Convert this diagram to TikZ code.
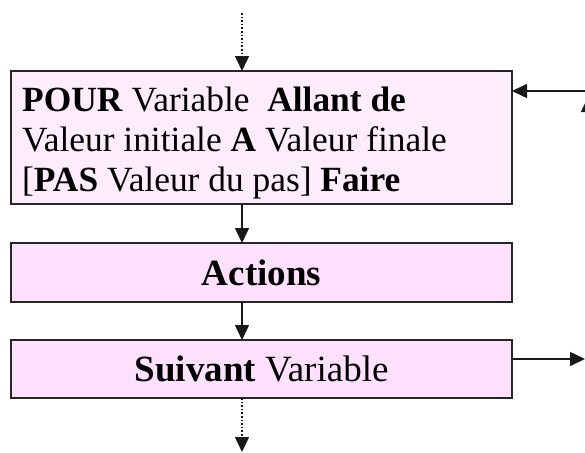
\documentclass[tikz,border=0pt]{standalone}
\usepackage{fontspec}
\setmainfont{Liberation Serif}
\usetikzlibrary{arrows.meta}
\definecolor{pinkA}{RGB}{252,236,252}
\definecolor{pinkB}{RGB}{252,224,252}
\begin{document}
\begin{tikzpicture}[x=1pt,y=-1pt,
  box/.style={draw=black!85, line width=2pt, rectangle, inner sep=0pt, outer sep=0pt, anchor=north west},
  conn/.style={line width=1.6pt, black!90, -{Triangle[length=15pt,width=14pt]}},
  dotconn/.style={conn, dotted},
  txtA/.style={font=\fontsize{35.4}{40}\selectfont, inner sep=0pt, anchor=base west},
  txtB/.style={font=\fontsize{37}{42}\selectfont}
]
\useasboundingbox (0,0) rectangle (585,452);
\clip (0,0) rectangle (585,452);
% boxes
\node[box, fill=pinkA, minimum width=501pt, minimum height=133pt] (pour) at (11,71) {};
\node[txtA] (l1) at (22,111) {\textbf{POUR} Variable\ \ \textbf{Allant de}};
\node[txtA] (l2) at (22,151) {Valeur initiale \textbf{A} Valeur finale};
\node[txtA] (l3) at (22,191) {[\textbf{PAS} Valeur du pas] \textbf{Faire}};
\node[box, fill=pinkB, minimum width=501pt, minimum height=59pt, txtB] (act) at (11,243) {\textbf{Actions}};
\node[box, fill=pinkB, minimum width=501pt, minimum height=58pt, txtB] (suiv) at (11,340) {\textbf{Suivant} Variable};
% coordinates
\coordinate (top) at (242,13);
\coordinate (bot) at (242,452);
\coordinate (rin) at (590,91);
\coordinate (rout) at (585,359);
\coordinate (upfoot) at (588,200);
\coordinate (uptip) at (588,97);
% connectors
\draw[dotconn] (top) -- (top |- pour.north);
\draw[conn] (pour.south -| top) -- (act.north -| top);
\draw[conn] (act.south -| top) -- (suiv.north -| top);
\draw[dotconn] (suiv.south -| top) -- (bot);
\draw[conn] (rin) -- (rin -| pour.east);
\draw[conn] (suiv.east |- rout) -- (rout);
\draw[conn] (upfoot) -- (uptip);
\end{tikzpicture}
\end{document}
